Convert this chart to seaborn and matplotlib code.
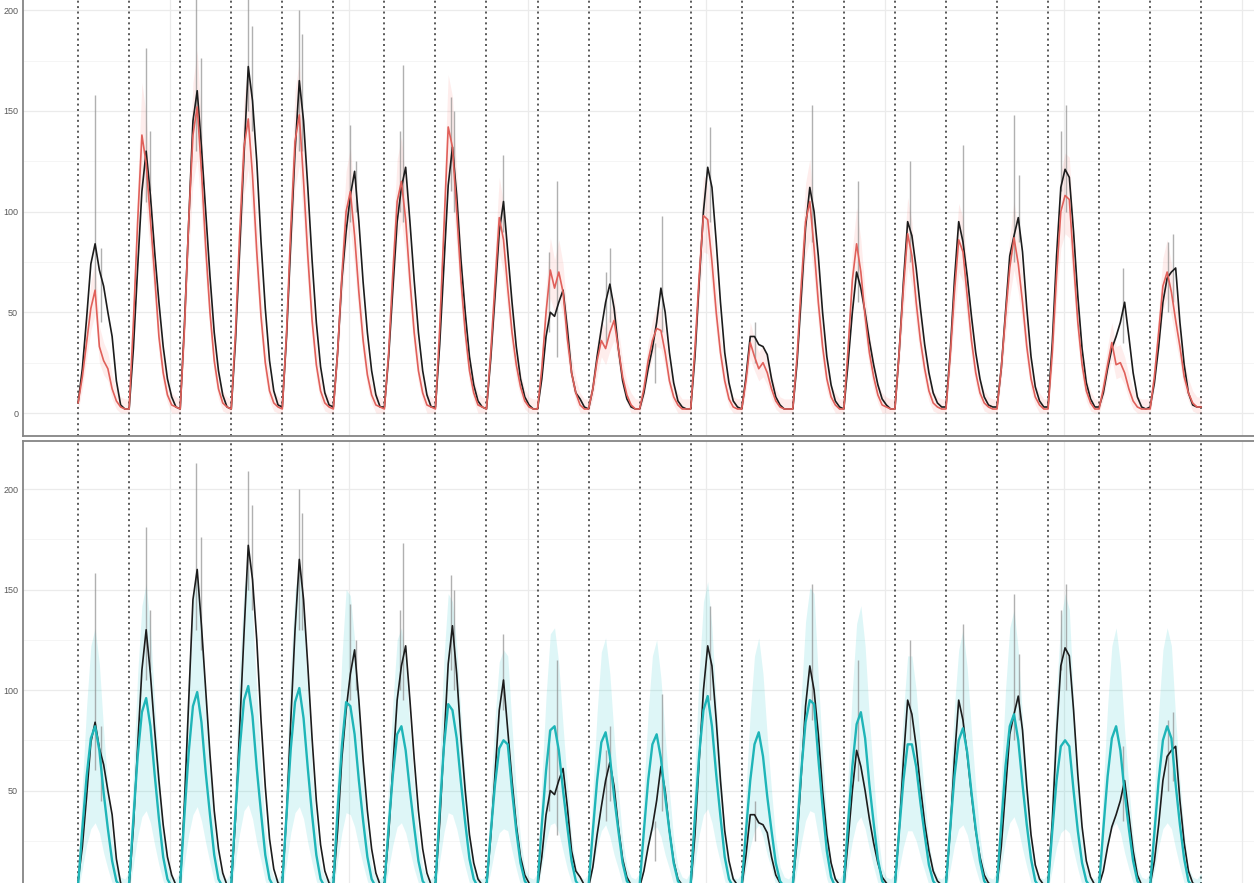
import matplotlib
matplotlib.use("Agg")
import matplotlib.pyplot as plt
import seaborn as sns

# sampling grid inside one day (hours) and day boundaries
hour_of_day = [0, 2, 4, 6, 8, 10, 12, 14, 16, 18, 20, 22]
n_days = 22
day_breaks = [24 * d for d in range(n_days + 1)]
y_breaks_top = [0, 50, 100, 150, 200]
y_breaks_bot = [50, 100, 150, 200]
y_major = [0, 50, 100, 150, 200]
y_minor = [25, 75, 125, 175, 225]
x_grid = [43.3, 127.3, 211.3, 295.3, 379.3, 463.3, 547.3]

# observed, smoothed (black) - one row per day, last value closes the series
obs_smooth = [
    5, 22, 47, 74, 84, 71, 63, 50, 38, 16, 4, 2,
    2, 32, 72, 110, 130, 108, 80, 55, 33, 17, 8, 3,
    2, 44, 95, 145, 160, 132, 100, 68, 40, 21, 9, 3,
    2, 36, 82, 128, 172, 155, 125, 85, 52, 26, 11, 4,
    3, 38, 85, 130, 165, 145, 112, 76, 45, 23, 10, 4,
    3, 30, 66, 90, 108, 120, 95, 65, 40, 21, 9, 3,
    3, 28, 62, 95, 112, 122, 95, 66, 40, 21, 9, 3,
    3, 34, 74, 113, 132, 108, 76, 50, 28, 14, 6, 3,
    2, 27, 58, 90, 105, 80, 55, 33, 17, 8, 4, 2,
    2, 17, 38, 50, 48, 55, 61, 42, 20, 10, 7, 3,
    2, 12, 28, 42, 55, 64, 52, 32, 16, 7, 3, 2,
    2, 10, 22, 32, 45, 62, 50, 30, 15, 6, 3, 2,
    2, 28, 65, 100, 122, 112, 85, 55, 30, 15, 6, 3,
    2, 18, 38, 38, 34, 33, 29, 17, 8, 4, 2, 2,
    2, 25, 58, 92, 112, 100, 78, 50, 28, 14, 6, 3,
    2, 25, 50, 70, 62, 50, 36, 24, 14, 7, 4, 2,
    2, 30, 65, 95, 88, 72, 52, 34, 20, 10, 5, 3,
    3, 30, 66, 95, 85, 68, 48, 30, 17, 8, 4, 3,
    3, 22, 50, 78, 88, 97, 80, 52, 28, 13, 6, 3,
    3, 35, 78, 112, 121, 117, 90, 58, 32, 15, 7, 3,
    3, 10, 22, 32, 38, 45, 55, 38, 20, 8, 3, 2,
    3, 15, 33, 55, 67, 70, 72, 45, 24, 10, 4, 3,
    3,
]

# model 1 (red) with interval
fit_red = [
    5, 18, 35, 52, 61, 33, 26, 22, 12, 6, 3, 2,
    2, 45, 95, 138, 124, 96, 68, 38, 20, 9, 4, 3,
    2, 42, 95, 138, 152, 120, 82, 50, 26, 12, 5, 3,
    2, 40, 90, 132, 146, 118, 80, 48, 25, 11, 5, 3,
    2, 40, 92, 135, 148, 115, 78, 46, 24, 11, 5, 3,
    2, 30, 68, 100, 110, 88, 60, 36, 19, 9, 4, 3,
    2, 30, 70, 105, 115, 96, 66, 40, 21, 10, 4, 3,
    2, 42, 92, 142, 132, 100, 66, 40, 21, 10, 4, 3,
    2, 30, 64, 97, 86, 62, 40, 24, 13, 6, 3, 2,
    2, 22, 50, 71, 62, 70, 60, 37, 20, 10, 4, 2,
    2, 12, 26, 36, 32, 40, 46, 32, 18, 9, 4, 2,
    2, 12, 26, 36, 42, 41, 30, 16, 8, 4, 2, 2,
    2, 32, 68, 98, 96, 75, 50, 30, 16, 7, 3, 2,
    2, 16, 35, 28, 22, 25, 20, 12, 6, 3, 2, 2,
    2, 28, 64, 95, 105, 82, 55, 33, 17, 8, 4, 2,
    2, 32, 66, 84, 70, 48, 30, 18, 9, 4, 3, 2,
    2, 30, 62, 89, 78, 55, 36, 22, 11, 5, 3, 2,
    2, 28, 60, 86, 80, 58, 36, 20, 10, 5, 3, 2,
    2, 22, 48, 72, 87, 74, 55, 33, 17, 8, 4, 2,
    2, 30, 68, 100, 108, 106, 75, 45, 24, 11, 5, 2,
    2, 12, 24, 35, 24, 25, 20, 12, 6, 3, 2, 2,
    2, 18, 40, 63, 70, 60, 46, 33, 18, 10, 5, 3,
    3,
]
fit_red_hi = [
    11, 26, 45, 65, 75, 43, 35, 30, 19, 12, 8, 7,
    7, 57, 114, 164, 148, 115, 83, 49, 28, 15, 10, 8,
    7, 53, 114, 164, 180, 143, 99, 63, 35, 19, 11, 8,
    7, 51, 109, 157, 173, 141, 97, 60, 34, 18, 11, 8,
    7, 51, 111, 160, 175, 137, 95, 58, 33, 18, 11, 8,
    7, 40, 83, 120, 132, 106, 74, 46, 27, 15, 10, 8,
    7, 40, 86, 126, 137, 115, 81, 51, 29, 17, 10, 8,
    7, 53, 111, 168, 157, 120, 81, 51, 29, 17, 10, 8,
    7, 40, 79, 117, 104, 76, 51, 33, 20, 12, 8, 7,
    7, 30, 63, 87, 76, 86, 74, 48, 28, 17, 10, 7,
    7, 19, 35, 46, 42, 51, 58, 42, 26, 15, 10, 7,
    7, 19, 35, 46, 53, 52, 40, 23, 14, 10, 7, 7,
    7, 42, 83, 118, 115, 91, 63, 40, 23, 13, 8, 7,
    7, 23, 45, 37, 30, 34, 28, 19, 12, 8, 7, 7,
    7, 37, 79, 114, 126, 99, 68, 43, 25, 14, 10, 7,
    7, 42, 81, 102, 86, 60, 40, 26, 15, 10, 8, 7,
    7, 40, 76, 107, 95, 68, 46, 30, 18, 11, 8, 7,
    7, 37, 74, 104, 97, 72, 46, 28, 17, 11, 8, 7,
    7, 30, 60, 88, 105, 90, 68, 43, 25, 14, 10, 7,
    7, 40, 83, 120, 129, 127, 91, 57, 33, 18, 11, 7,
    7, 19, 33, 45, 33, 34, 28, 19, 12, 8, 7, 7,
    7, 26, 51, 77, 86, 74, 58, 43, 26, 17, 11, 8,
    8,
]
fit_red_lo = [
    1, 12, 27, 41, 49, 25, 19, 16, 7, 2, 0, 0,
    0, 35, 78, 114, 102, 79, 55, 29, 14, 5, 0, 0,
    0, 33, 78, 114, 126, 99, 67, 40, 19, 7, 1, 0,
    0, 31, 74, 109, 121, 97, 65, 38, 18, 6, 1, 0,
    0, 31, 75, 112, 123, 95, 63, 36, 17, 6, 1, 0,
    0, 23, 55, 82, 91, 72, 48, 28, 13, 5, 0, 0,
    0, 23, 57, 86, 95, 79, 53, 31, 15, 6, 0, 0,
    0, 33, 75, 118, 109, 82, 53, 31, 15, 6, 0, 0,
    0, 23, 51, 79, 70, 50, 31, 17, 8, 2, 0, 0,
    0, 16, 40, 57, 50, 57, 48, 28, 14, 6, 0, 0,
    0, 7, 19, 28, 24, 31, 36, 24, 12, 5, 0, 0,
    0, 7, 19, 28, 33, 32, 23, 11, 4, 0, 0, 0,
    0, 24, 55, 80, 79, 61, 40, 23, 11, 3, 0, 0,
    0, 11, 27, 21, 16, 18, 14, 7, 2, 0, 0, 0,
    0, 21, 51, 78, 86, 67, 44, 25, 11, 4, 0, 0,
    0, 24, 53, 68, 57, 38, 23, 12, 5, 0, 0, 0,
    0, 23, 50, 73, 63, 44, 28, 16, 6, 1, 0, 0,
    0, 21, 48, 70, 65, 46, 28, 14, 6, 1, 0, 0,
    0, 16, 38, 58, 71, 60, 44, 25, 11, 4, 0, 0,
    0, 23, 55, 82, 89, 87, 61, 35, 17, 6, 1, 0,
    0, 7, 17, 27, 17, 18, 14, 7, 2, 0, 0, 0,
    0, 12, 31, 51, 57, 48, 36, 25, 12, 6, 1, 0,
    0,
]

# model 2 (cyan) with interval
fit_cyan = [
    3, 31, 57, 76, 82, 70, 49, 31, 15, 5, 2, 1,
    4, 36, 67, 89, 96, 82, 58, 36, 17, 6, 2, 1,
    4, 38, 69, 92, 99, 84, 59, 38, 18, 6, 2, 1,
    4, 39, 71, 95, 102, 87, 61, 39, 18, 6, 2, 1,
    4, 38, 71, 94, 101, 86, 61, 38, 18, 6, 2, 1,
    4, 40, 72, 94, 92, 78, 55, 35, 17, 6, 2, 1,
    3, 32, 58, 78, 82, 70, 50, 32, 15, 5, 2, 1,
    4, 40, 72, 93, 90, 76, 54, 34, 16, 6, 2, 1,
    3, 29, 53, 71, 75, 73, 50, 30, 14, 5, 2, 1,
    3, 33, 60, 80, 82, 70, 50, 32, 15, 5, 2, 1,
    3, 30, 55, 74, 79, 67, 47, 30, 14, 5, 2, 1,
    3, 30, 55, 73, 78, 66, 47, 30, 14, 5, 2, 1,
    4, 37, 68, 90, 97, 82, 58, 37, 17, 6, 2, 1,
    3, 30, 55, 73, 79, 67, 47, 30, 14, 5, 2, 1,
    3, 30, 60, 84, 95, 93, 66, 42, 20, 7, 2, 1,
    4, 34, 62, 83, 89, 76, 53, 34, 16, 5, 2, 1,
    3, 30, 55, 73, 73, 62, 44, 28, 13, 5, 2, 1,
    3, 31, 57, 75, 81, 69, 49, 31, 15, 5, 2, 1,
    4, 33, 62, 82, 88, 75, 53, 33, 16, 5, 2, 1,
    3, 30, 55, 72, 75, 72, 50, 30, 14, 5, 2, 1,
    3, 31, 57, 76, 82, 70, 49, 31, 15, 5, 2, 1,
    3, 29, 55, 75, 82, 76, 53, 33, 16, 5, 2, 1,
    3,
]
fit_cyan_hi = [
    9, 52, 92, 122, 131, 113, 80, 52, 27, 12, 7, 6,
    10, 60, 108, 142, 153, 131, 94, 60, 30, 13, 7, 6,
    10, 63, 111, 147, 157, 134, 95, 63, 32, 13, 7, 6,
    10, 64, 114, 151, 162, 139, 99, 64, 32, 13, 7, 6,
    10, 63, 114, 150, 161, 137, 99, 63, 32, 13, 7, 6,
    10, 66, 116, 150, 147, 125, 89, 58, 30, 13, 7, 6,
    9, 54, 94, 125, 131, 113, 82, 54, 27, 12, 7, 6,
    10, 66, 116, 148, 144, 122, 88, 57, 29, 13, 7, 6,
    9, 49, 86, 114, 120, 117, 82, 50, 26, 12, 7, 6,
    9, 55, 97, 128, 131, 113, 82, 54, 27, 12, 7, 6,
    9, 50, 89, 119, 126, 108, 77, 50, 26, 12, 7, 6,
    9, 50, 89, 117, 125, 106, 77, 50, 26, 12, 7, 6,
    10, 61, 109, 144, 154, 131, 94, 61, 30, 13, 7, 6,
    9, 50, 89, 117, 126, 108, 77, 50, 26, 12, 7, 6,
    9, 50, 97, 134, 151, 148, 106, 69, 35, 15, 7, 6,
    10, 57, 100, 133, 142, 122, 86, 57, 29, 12, 7, 6,
    9, 50, 89, 117, 117, 100, 72, 47, 24, 12, 7, 6,
    9, 52, 92, 120, 130, 111, 80, 52, 27, 12, 7, 6,
    10, 55, 100, 131, 140, 120, 86, 55, 29, 12, 7, 6,
    9, 55, 100, 135, 148, 140, 95, 55, 27, 12, 7, 6,
    9, 52, 92, 122, 131, 113, 80, 52, 27, 12, 7, 6,
    9, 49, 89, 120, 131, 122, 86, 55, 29, 12, 7, 6,
    9,
]
fit_cyan_lo = [
    0, 11, 23, 31, 34, 29, 19, 11, 4, 0, 0, 0,
    0, 13, 27, 37, 40, 34, 23, 13, 5, 0, 0, 0,
    0, 14, 28, 38, 42, 35, 24, 14, 5, 0, 0, 0,
    0, 15, 29, 40, 43, 36, 24, 15, 5, 0, 0, 0,
    0, 14, 29, 39, 42, 36, 24, 14, 5, 0, 0, 0,
    0, 15, 29, 39, 38, 32, 22, 13, 5, 0, 0, 0,
    0, 11, 23, 32, 34, 29, 20, 11, 4, 0, 0, 0,
    0, 15, 29, 39, 38, 31, 21, 12, 4, 0, 0, 0,
    0, 10, 21, 29, 31, 30, 20, 11, 3, 0, 0, 0,
    0, 12, 24, 33, 34, 29, 20, 11, 4, 0, 0, 0,
    0, 11, 22, 30, 33, 27, 18, 11, 3, 0, 0, 0,
    0, 11, 22, 30, 32, 27, 18, 11, 3, 0, 0, 0,
    0, 14, 28, 38, 41, 34, 23, 14, 5, 0, 0, 0,
    0, 11, 22, 30, 33, 27, 18, 11, 3, 0, 0, 0,
    0, 11, 24, 35, 40, 39, 27, 16, 6, 0, 0, 0,
    0, 12, 25, 34, 37, 31, 21, 12, 4, 0, 0, 0,
    0, 11, 22, 30, 30, 25, 17, 10, 3, 0, 0, 0,
    0, 11, 23, 31, 33, 28, 19, 11, 4, 0, 0, 0,
    0, 12, 25, 34, 37, 31, 21, 12, 4, 0, 0, 0,
    0, 11, 22, 29, 31, 29, 20, 11, 3, 0, 0, 0,
    0, 11, 23, 31, 34, 29, 19, 11, 4, 0, 0, 0,
    0, 10, 22, 31, 34, 31, 21, 12, 4, 0, 0, 0,
    0,
]

# raw observations: spikes around the peaks (time in hours, low, high)
spike_t = [8.0, 10.8, 32.0, 33.8, 55.5, 57.8, 79.9, 81.8, 103.9, 105.3,
           127.9, 130.7, 151.4, 152.8, 175.3, 176.8, 199.8, 221.4, 225.2,
           248.2, 250.1, 271.2, 274.5, 297.1, 318.3, 345.1, 366.7, 391.1,
           416.0, 440.0, 442.4, 462.1, 464.5, 491.3, 512.4, 514.8]
spike_lo = [60, 45, 105, 110, 130, 120, 150, 140, 130, 130,
            95, 100, 100, 95, 110, 100, 90, 40, 28,
            35, 45, 15, 40, 95, 25, 85, 55, 75,
            80, 75, 85, 110, 100, 35, 50, 55]
spike_hi = [158, 82, 181, 140, 213, 176, 209, 192, 200, 188,
            143, 125, 140, 173, 157, 150, 128, 80, 115,
            70, 82, 35, 98, 142, 45, 153, 115, 125,
            133, 148, 118, 140, 153, 72, 85, 89]

t = [24 * d + h for d in range(n_days) for h in hour_of_day] + [24 * n_days]

sns.set_style("white")
plt.rcParams["font.family"] = ["Liberation Sans", "DejaVu Sans"]

fig = plt.figure(figsize=(12.54, 8.83), dpi=100)
W, H = 1254.0, 883.0
px_per_h = 51.05 / 24
x0, x1 = -25.9, 565
ax_w = (x1 - x0) * px_per_h / W
ax_top = fig.add_axes([23 / W, (H - 436) / H, ax_w, 474 / H])
ax_bot = fig.add_axes([23 / W, (H - 914) / H, ax_w, 473 / H])


def style_panel(ax, ticks):
    ax.set_xlim(x0, x1)
    ax.set_ylim(-11.4, 223.9)
    for yv in y_minor:
        ax.axhline(yv, color="#f4f4f4", lw=0.6, zorder=0)
    for yv in y_major:
        ax.axhline(yv, color="#ebebeb", lw=0.9, zorder=0)
    for xv in x_grid:
        ax.axvline(xv, color="#ebebeb", lw=0.9, zorder=0)
    for xv in day_breaks:
        ax.axvline(xv, color="#4d4d4d", lw=1.3, ls=(0, (1.1, 1.9)), zorder=1)
    ax.set_yticks(ticks)
    ax.set_yticklabels([str(v) for v in ticks], fontsize=6.5, color="#5a5a5a")
    ax.set_xticks(day_breaks)
    ax.set_xticklabels([])
    ax.tick_params(axis="both", length=2, width=0.8, color="#666666", pad=1.5)
    for s in ax.spines.values():
        s.set_color("#858585")
        s.set_linewidth(1.3)


# top panel: red model
style_panel(ax_top, y_breaks_top)
ax_top.fill_between(t, fit_red_lo, fit_red_hi, color="#F8766D", alpha=0.13, lw=0, zorder=2)
ax_top.vlines(spike_t, spike_lo, spike_hi, color="#8f8f8f", lw=1.0, alpha=0.7, zorder=3)
sns.lineplot(x=t, y=obs_smooth, ax=ax_top, color="#1c1c1c", linewidth=1.2, zorder=4)
sns.lineplot(x=t, y=fit_red, ax=ax_top, color="#E0605A", linewidth=1.2, zorder=5)

# bottom panel: cyan model
style_panel(ax_bot, y_breaks_bot)
ax_bot.fill_between(t, fit_cyan_lo, fit_cyan_hi, color="#00BFC4", alpha=0.13, lw=0, zorder=2)
ax_bot.vlines(spike_t, spike_lo, spike_hi, color="#8f8f8f", lw=1.0, alpha=0.7, zorder=3)
sns.lineplot(x=t, y=obs_smooth, ax=ax_bot, color="#1c1c1c", linewidth=1.2, zorder=4)
sns.lineplot(x=t, y=fit_cyan, ax=ax_bot, color="#1FB5B8", linewidth=1.7, zorder=5)

for ax in (ax_top, ax_bot):
    ax.set_xlabel("")
    ax.set_ylabel("")

fig.savefig("out.png", dpi=100)
